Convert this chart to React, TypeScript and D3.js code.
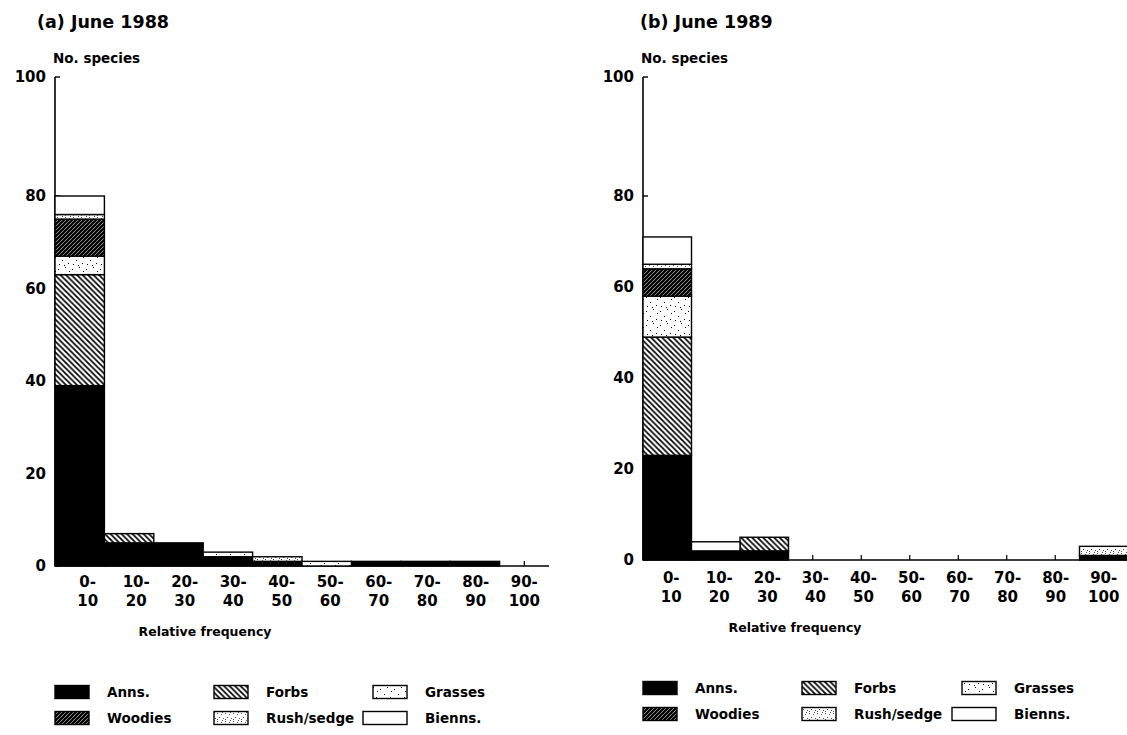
import React from "react";
import * as d3 from "d3";

// Relative-frequency classes (two-line tick labels)
const binStarts = ["0-", "10-", "20-", "30-", "40-", "50-", "60-", "70-", "80-", "90-"];
const binEnds = ["10", "20", "30", "40", "50", "60", "70", "80", "90", "100"];
const yTicks = [0, 20, 40, 60, 80, 100];

// Life-form groups, bottom to top of each stack
const groups = ["Anns.", "Forbs", "Grasses", "Woodies", "Rush/sedge", "Bienns."];

// June 1988 species counts per class
const anns1988 = [39, 5, 5, 2, 1, 0, 1, 1, 1, 0];
const forbs1988 = [24, 2, 0, 0, 0, 0, 0, 0, 0, 0];
const grasses1988 = [4, 0, 0, 1, 0, 1, 0, 0, 0, 0];
const woodies1988 = [8, 0, 0, 0, 0, 0, 0, 0, 0, 0];
const rush1988 = [1, 0, 0, 0, 1, 0, 0, 0, 0, 0];
const bienns1988 = [4, 0, 0, 0, 0, 0, 0, 0, 0, 0];

// June 1989 species counts per class
const anns1989 = [23, 2, 2, 0, 0, 0, 0, 0, 0, 1];
const forbs1989 = [26, 0, 3, 0, 0, 0, 0, 0, 0, 0];
const grasses1989 = [9, 0, 0, 0, 0, 0, 0, 0, 0, 0];
const woodies1989 = [6, 0, 0, 0, 0, 0, 0, 0, 0, 0];
const rush1989 = [1, 0, 0, 0, 0, 0, 0, 0, 0, 2];
const bienns1989 = [6, 2, 0, 0, 0, 0, 0, 0, 0, 0];

const FONT = "'DejaVu Sans', 'Liberation Sans', sans-serif";

const fills: Record<string, string> = {
  "Anns.": "#000",
  Forbs: "url(#pat-forbs)",
  Grasses: "url(#pat-grasses)",
  Woodies: "url(#pat-woodies)",
  "Rush/sedge": "url(#pat-rush)",
  "Bienns.": "#fff",
};

function Patterns() {
  const grassDots = [
    [2, 3], [9, 1], [6, 8], [12, 11], [3, 12], [13, 5], [8, 13],
  ];
  const rushDots = [
    [1, 1], [5, 2], [3, 5], [7, 6], [1, 7], [6, 0],
  ];
  return (
    <defs>
      <pattern id="pat-forbs" width={5.5} height={5.5} patternUnits="userSpaceOnUse">
        <rect width={5.5} height={5.5} fill="#fff" />
        <path d="M-1,-1 L6.5,6.5 M-1,4.5 L1,6.5 M4.5,-1 L6.5,1" stroke="#000" strokeWidth={1.7} />
      </pattern>
      <pattern id="pat-woodies" width={4} height={4} patternUnits="userSpaceOnUse">
        <rect width={4} height={4} fill="#fff" />
        <path d="M-1,5 L5,-1 M-1,1 L1,-1 M3,5 L5,3" stroke="#000" strokeWidth={2.3} />
      </pattern>
      <pattern id="pat-grasses" width={14} height={14} patternUnits="userSpaceOnUse">
        <rect width={14} height={14} fill="#fff" />
        {grassDots.map(([cx, cy], i) => (
          <rect key={i} x={cx} y={cy} width={1} height={1} fill="#000" />
        ))}
      </pattern>
      <pattern id="pat-rush" width={8} height={8} patternUnits="userSpaceOnUse">
        <rect width={8} height={8} fill="#fff" />
        {rushDots.map(([cx, cy], i) => (
          <rect key={i} x={cx} y={cy} width={1} height={1} fill="#555" />
        ))}
      </pattern>
    </defs>
  );
}

type PanelProps = {
  title: string;
  series: number[][];
  titleX: number;
  x0: number;
  x1: number;
  yBase: number;
  y80: number;
  yTop: number;
  tickLabelX: number;
  xLabelY: number;
  xLabelShift: number;
  axisTitleX: number;
  axisTitleY: number;
  legendX: number[];
  legendY: number[];
};

function Panel(p: PanelProps) {
  const x = d3.scaleBand<string>().domain(binStarts).range([p.x0, p.x1]).padding(0);
  const y = d3.scaleLinear().domain([0, 80, 100]).range([p.yBase, p.y80, p.yTop]);

  const rows = binStarts.map((b, i) => {
    const r: Record<string, any> = { bin: b };
    groups.forEach((g, j) => (r[g] = p.series[j][i]));
    return r;
  });
  const layers = d3.stack<Record<string, any>>().keys(groups)(rows);
  const bw = x.bandwidth();
  const mid = (b: string) => (x(b) as number) + bw / 2;

  return (
    <g>
      <text x={p.titleX} y={28} fontFamily={FONT} fontWeight="bold" fontSize={17.5}>
        {p.title}
      </text>
      <text x={p.x0 - 2} y={63} fontFamily={FONT} fontWeight="bold" fontSize={13.5}>
        No. species
      </text>

      {/* y axis */}
      <line x1={p.x0} x2={p.x0} y1={y(0)} y2={y(100)} stroke="#000" strokeWidth={1.6} />
      {yTicks.map((t) => (
        <g key={t}>
          <line x1={p.x0} x2={p.x0 + 5} y1={y(t)} y2={y(t)} stroke="#000" strokeWidth={1.4} />
          <text
            x={p.tickLabelX}
            y={y(t)}
            dy="0.36em"
            textAnchor="end"
            fontFamily={FONT}
            fontWeight="bold"
            fontSize={15}
          >
            {t}
          </text>
        </g>
      ))}

      {/* x axis */}
      <line x1={p.x0} x2={p.x1} y1={y(0)} y2={y(0)} stroke="#000" strokeWidth={1.6} />
      {binStarts.map((b) => (
        <line key={b} x1={mid(b)} x2={mid(b)} y1={y(0)} y2={y(0) - 5} stroke="#000" strokeWidth={1.2} />
      ))}

      {/* stacked bars */}
      {layers.map((layer) =>
        layer.map((d, i) =>
          d[1] - d[0] > 0 ? (
            <rect
              key={layer.key + i}
              x={x(binStarts[i])}
              y={y(d[1])}
              width={bw}
              height={y(d[0]) - y(d[1])}
              fill={fills[layer.key]}
              stroke="#000"
              strokeWidth={1.4}
            />
          ) : null
        )
      )}

      {binStarts.map((b, i) => {
        const lx = mid(b) + p.xLabelShift * (1 - i / 9);
        return (
          <text
            key={b}
            x={lx}
            y={p.xLabelY}
            textAnchor="middle"
            fontFamily={FONT}
            fontWeight="bold"
            fontSize={15}
          >
            <tspan x={lx}>{b}</tspan>
            <tspan x={lx} dy={18.5}>
              {binEnds[i]}
            </tspan>
          </text>
        );
      })}
      <text
        x={p.axisTitleX}
        y={p.axisTitleY}
        textAnchor="middle"
        fontFamily={FONT}
        fontWeight="bold"
        fontSize={12.5}
      >
        Relative frequency
      </text>

      {/* legend */}
      {groups.map((g, i) => {
        const col = i % 3;
        const row = Math.floor(i / 3);
        const sx = p.legendX[col];
        const sy = p.legendY[row];
        const wide = g === "Bienns.";
        const sw = wide ? 44 : 34;
        const rx = wide ? sx + 34 - sw : sx;
        return (
          <g key={g}>
            <rect
              x={rx}
              y={sy - 6.5}
              width={sw}
              height={13}
              fill={fills[g]}
              stroke="#000"
              strokeWidth={1.4}
            />
            <text
              x={sx + 52}
              y={sy}
              dy="0.36em"
              fontFamily={FONT}
              fontWeight="bold"
              fontSize={13.5}
            >
              {g}
            </text>
          </g>
        );
      })}
    </g>
  );
}

export default function App() {
  return (
    <svg
      width={1127}
      height={735}
      viewBox="0 0 1127 735"
      style={{ position: "absolute", left: 0, top: 0, background: "#fff" }}
    >
      <Patterns />
      <rect width={1127} height={735} fill="#fff" />
      <Panel
        title="(a) June 1988"
        series={[anns1988, forbs1988, grasses1988, woodies1988, rush1988, bienns1988]}
        titleX={37}
        x0={55}
        x1={549}
        yBase={566}
        y80={196}
        yTop={77}
        tickLabelX={46}
        xLabelY={587}
        xLabelShift={8}
        axisTitleX={205}
        axisTitleY={636}
        legendX={[55, 214, 373]}
        legendY={[692, 718]}
      />
      <Panel
        title="(b) June 1989"
        series={[anns1989, forbs1989, grasses1989, woodies1989, rush1989, bienns1989]}
        titleX={640}
        x0={643}
        x1={1128}
        yBase={560}
        y80={196}
        yTop={77}
        tickLabelX={634}
        xLabelY={583}
        xLabelShift={4}
        axisTitleX={795}
        axisTitleY={632}
        legendX={[643, 802, 962]}
        legendY={[688, 714]}
      />
    </svg>
  );
}
